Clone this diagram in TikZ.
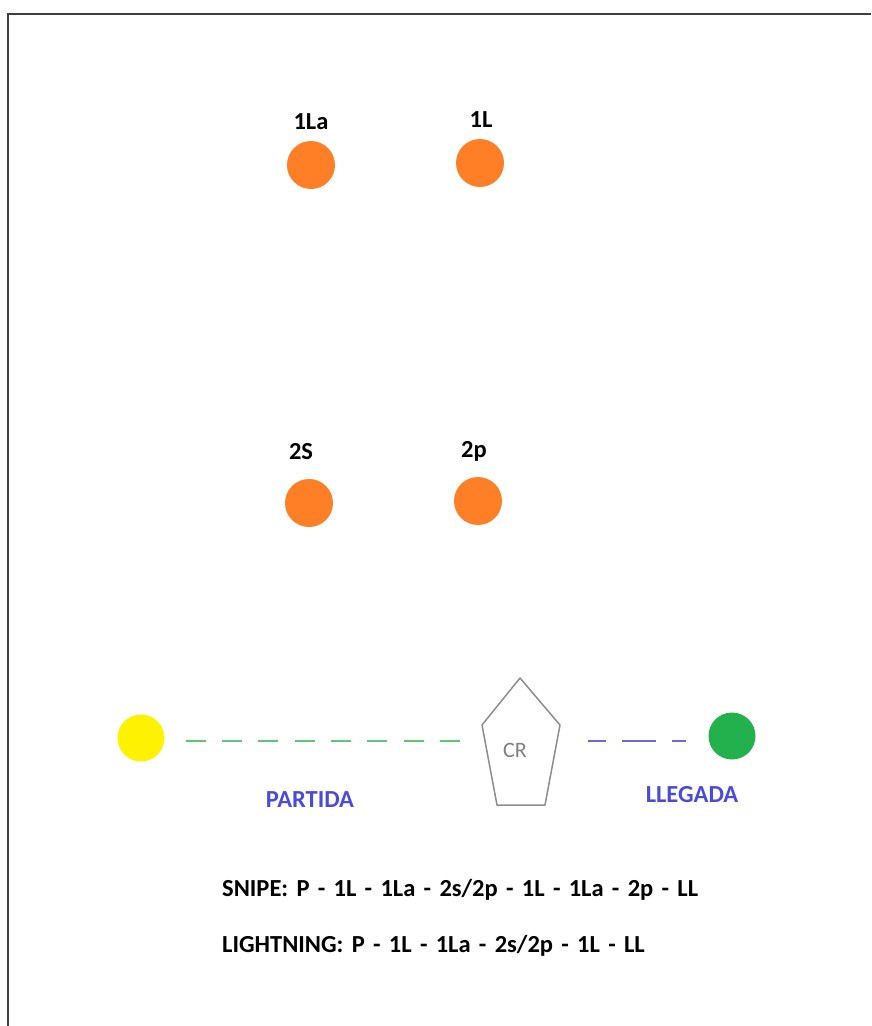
\documentclass[tikz,border=0pt]{standalone}
\usepackage{fontspec}
\setmainfont{Carlito}
\usetikzlibrary{calc}
\definecolor{paintorange}{HTML}{FF7F27}
\definecolor{paintyellow}{HTML}{FFF200}
\definecolor{paintgreen}{HTML}{22B14C}
\definecolor{dashgreen}{HTML}{5CC877}
\definecolor{dashblue}{HTML}{6A6AE0}
\definecolor{textblue}{HTML}{4B4BDB}
\definecolor{crgray}{HTML}{808080}
\definecolor{framegray}{HTML}{404040}
\tikzset{
  buoy/.style={circle, inner sep=0pt, minimum size=48pt},
  tag/.style={anchor=base, inner sep=0pt, font=\fontsize{24.5}{28}\selectfont\bfseries},
  course/.style={tag, anchor=base west, execute at begin node={\frenchspacing\spaceskip=8.3pt\relax}},
}

\begin{document}
\begin{tikzpicture}[x=1pt, y=-1pt]
		%%%%% START %%%%%
		\useasboundingbox (0, 0) rectangle (871, 1026);
		\draw[framegray, line width=2pt] (7, 14) -- (871, 14);
		\draw[framegray, line width=2pt] (8, 14) -- (8, 1026);
		
		% marks
		\node[buoy, fill=paintorange] (b1La) at (311, 165) {};
		\node[buoy, fill=paintorange] (b1L) at (480, 163) {};
		\node[buoy, fill=paintorange] (b2S) at (309, 503) {};
		\node[buoy, fill=paintorange] (b2p) at (478, 501) {};
		\node[tag] (t1La) at (311, 129) {1La};
		\node[tag] (t1L) at (481, 127) {1L};
		\node[tag] (t2S) at (301, 459) {2S};
		\node[tag] (t2p) at (474, 457) {2p};
		
		% start and finish
		\node[buoy, fill=paintyellow, minimum size=47pt] (start) at (141, 738) {};
		\node[buoy, fill=paintgreen, minimum size=47pt] (finish) at (732, 736) {};
		
		\draw[crgray!90, line width=1.5pt, line join=round]
			(520, 678) -- (560, 725) -- (545, 805) -- (497, 805) -- (482, 725) -- cycle;
		\node[tag, font=\fontsize{22}{26}\selectfont, text=crgray] (cr) at (515, 757) {CR};
		\coordinate (crw) at (484, 741);
		\coordinate (cre) at (558, 741);
		
		\draw[dashgreen, line width=2pt, dash pattern=on 20pt off 16.3pt, shorten <=21pt, shorten >=24pt]
			(start.east |- crw) -- (crw);
		\draw[dashblue, line width=2pt, dash pattern=on 18pt off 16pt on 34pt off 16pt on 14pt, shorten <=30pt, shorten >=22pt]
			(cre) -- (finish.west |- cre);
		
		\node[tag, text=textblue] (partida) at (310, 807) {PARTIDA};
		\node[tag, text=textblue] (llegada) at (692, 802) {LLEGADA};
		
		\node[course] (snipe) at (222, 896) {SNIPE: P - 1L - 1La - 2s/2p - 1L - 1La - 2p - LL};
		\node[course] (lightning) at (222, 952) {LIGHTNING: P - 1L - 1La - 2s/2p - 1L - LL};
		%%%%% END %%%%%
\end{tikzpicture}
\end{document}
